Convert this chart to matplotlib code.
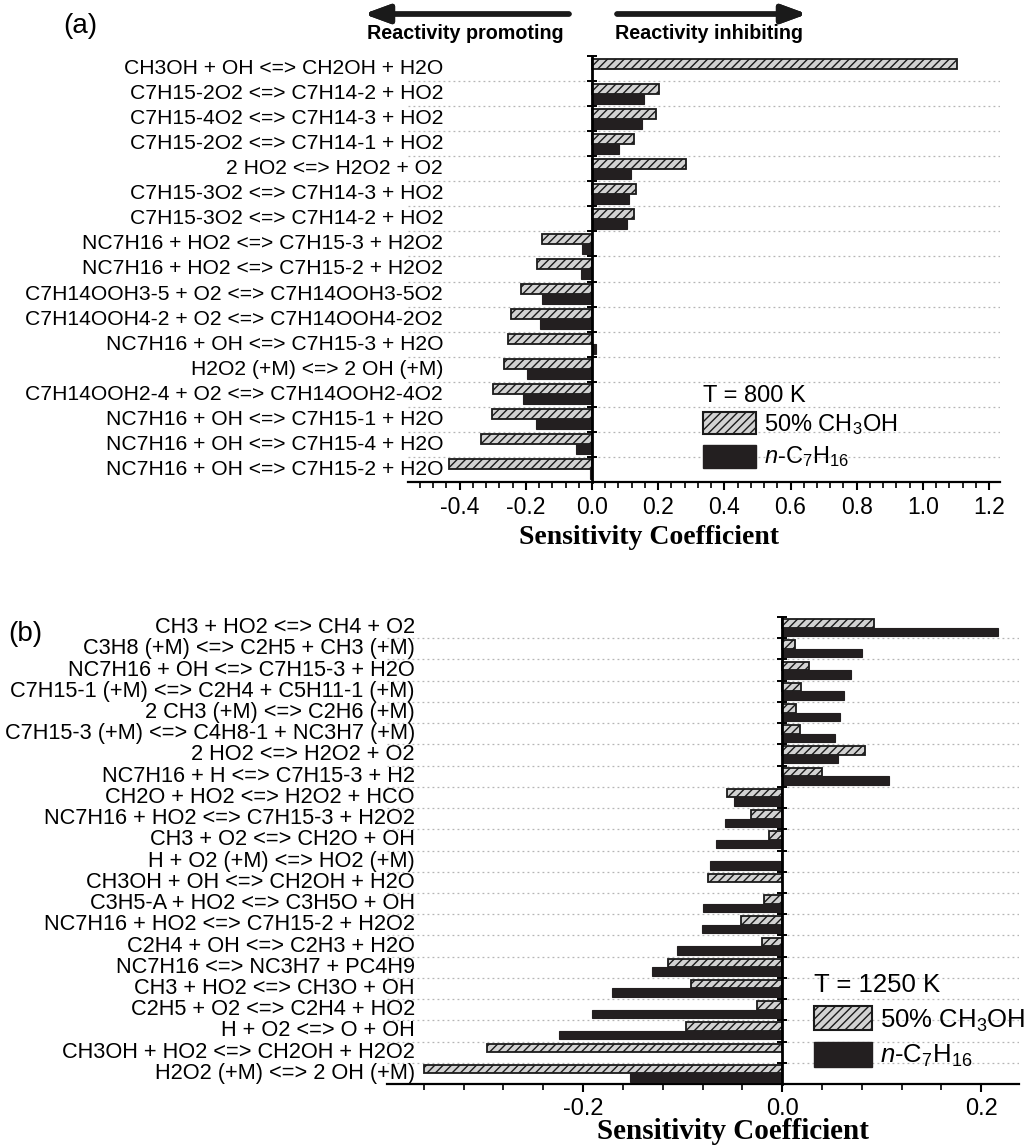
import numpy as np
import matplotlib
matplotlib.use("Agg")
import matplotlib.pyplot as plt
from matplotlib.ticker import MultipleLocator
from matplotlib.patches import Rectangle

plt.rcParams['font.family'] = ['Liberation Sans', 'DejaVu Sans']
plt.rcParams['mathtext.fontset'] = 'custom'
plt.rcParams['mathtext.rm'] = 'Liberation Sans'
plt.rcParams['mathtext.it'] = 'Liberation Sans:italic'
plt.rcParams['hatch.linewidth'] = 1.0

# ---------------- data ----------------
labels_a = [
    "CH3OH + OH <=> CH2OH + H2O",
    "C7H15-2O2 <=> C7H14-2 + HO2",
    "C7H15-4O2 <=> C7H14-3 + HO2",
    "C7H15-2O2 <=> C7H14-1 + HO2",
    "2 HO2 <=> H2O2 + O2",
    "C7H15-3O2 <=> C7H14-3 + HO2",
    "C7H15-3O2 <=> C7H14-2 + HO2",
    "NC7H16 + HO2 <=> C7H15-3 + H2O2",
    "NC7H16 + HO2 <=> C7H15-2 + H2O2",
    "C7H14OOH3-5 + O2 <=> C7H14OOH3-5O2",
    "C7H14OOH4-2 + O2 <=> C7H14OOH4-2O2",
    "NC7H16 + OH <=> C7H15-3 + H2O",
    "H2O2 (+M) <=> 2 OH (+M)",
    "C7H14OOH2-4 + O2 <=> C7H14OOH2-4O2",
    "NC7H16 + OH <=> C7H15-1 + H2O",
    "NC7H16 + OH <=> C7H15-4 + H2O",
    "NC7H16 + OH <=> C7H15-2 + H2O",
]
methanol_a = [1.104, 0.204, 0.194, 0.128, 0.283, 0.133, 0.128, -0.152, -0.165,
              -0.216, -0.244, -0.253, -0.266, -0.299, -0.303, -0.334, -0.432]
heptane_a = [0.0, 0.157, 0.150, 0.081, 0.117, 0.113, 0.105, -0.031, -0.033,
             -0.151, -0.157, 0.012, -0.195, -0.208, -0.169, -0.048, -0.006]

labels_b = [
    "CH3 + HO2 <=> CH4 + O2",
    "C3H8 (+M) <=> C2H5 + CH3 (+M)",
    "NC7H16 + OH <=> C7H15-3 + H2O",
    "C7H15-1 (+M) <=> C2H4 + C5H11-1 (+M)",
    "2 CH3 (+M) <=> C2H6 (+M)",
    "C7H15-3 (+M) <=> C4H8-1 + NC3H7 (+M)",
    "2 HO2 <=> H2O2 + O2",
    "NC7H16 + H <=> C7H15-3 + H2",
    "CH2O + HO2 <=> H2O2 + HCO",
    "NC7H16 + HO2 <=> C7H15-3 + H2O2",
    "CH3 + O2 <=> CH2O + OH",
    "H + O2 (+M) <=> HO2 (+M)",
    "CH3OH + OH <=> CH2OH + H2O",
    "C3H5-A + HO2 <=> C3H5O + OH",
    "NC7H16 + HO2 <=> C7H15-2 + H2O2",
    "C2H4 + OH <=> C2H3 + H2O",
    "NC7H16 <=> NC3H7 + PC4H9",
    "CH3 + HO2 <=> CH3O + OH",
    "C2H5 + O2 <=> C2H4 + HO2",
    "H + O2 <=> O + OH",
    "CH3OH + HO2 <=> CH2OH + H2O2",
    "H2O2 (+M) <=> 2 OH (+M)",
]
methanol_b = [0.092, 0.013, 0.027, 0.019, 0.014, 0.018, 0.083, 0.040, -0.055,
              -0.031, -0.013, 0.0, -0.074, -0.018, -0.041, -0.020, -0.115,
              -0.092, -0.025, -0.097, -0.297, -0.360]
heptane_b = [0.217, 0.080, 0.069, 0.062, 0.058, 0.053, 0.056, 0.107, -0.048,
             -0.057, -0.066, -0.072, 0.0, -0.080, -0.081, -0.106, -0.131,
             -0.171, -0.191, -0.224, 0.0, -0.153]

series_names = ["50% CH$_3$OH", "$n$-C$_7$H$_{16}$"]
xticks_a = [-0.4, -0.2, 0.0, 0.2, 0.4, 0.6, 0.8, 1.0, 1.2]
xticks_b = [-0.2, 0.0, 0.2]

W, H = 1030, 1148
fig = plt.figure(figsize=(W / 100, H / 100), dpi=100)


def fx(px):
    return px / W


def fy(py):
    return 1 - py / H


HATCH_FACE = '#d2d2d2'
SOLID = '#231f20'
SERIF = ['Liberation Serif', 'DejaVu Serif']


def panel(rect, labels, meth, hept, xlim, xticks, label_x, tick_fs, label_fs):
    ax = fig.add_axes(rect)
    n = len(labels)
    y = np.arange(n)
    ax.barh(y - 0.2, meth, height=0.4, color=HATCH_FACE, edgecolor='#1a1a1a',
            hatch='////', linewidth=1.3, zorder=3)
    ax.barh(y + 0.2, hept, height=0.4, color=SOLID, edgecolor=SOLID,
            linewidth=0.8, zorder=3)
    ax.set_ylim(n - 0.5, -0.5)
    ax.set_xlim(*xlim)
    # dotted separators between categories
    for b in np.arange(0.5, n - 0.5, 1.0):
        ax.axhline(b, color='#b5b5b5', ls=(0, (1.5, 2.5)), lw=0.9, zorder=1)
    for s in ['top', 'right']:
        ax.spines[s].set_visible(False)
    ax.spines['left'].set_position(('data', 0))
    ax.spines['left'].set_linewidth(2.0)
    ax.spines['left'].set_zorder(5)
    ax.spines['bottom'].set_linewidth(1.6)
    ax.set_yticks([])
    ax.set_yticks(np.arange(-0.5, n - 0.5, 1.0), minor=True)
    ax.tick_params(axis='y', which='minor', direction='inout', length=7, width=1.4)
    ax.set_xticks(xticks)
    ax.set_xticklabels([f"{t:.1f}" for t in xticks], fontsize=tick_fs)
    ax.xaxis.set_minor_locator(MultipleLocator(0.04))
    ax.tick_params(axis='x', which='major', direction='out', length=6, width=1.5, pad=4)
    ax.tick_params(axis='x', which='minor', direction='out', length=4, width=1.2)
    for i, lab in enumerate(labels):
        ax.text(label_x, i, lab, ha='right', va='center', fontsize=label_fs,
                clip_on=False)
    return ax


# top panel: axes x 408..1000 px, y 56..482 px
ax1 = panel([fx(408), fy(482), fx(1000) - fx(408), fy(56) - fy(482)],
            labels_a, methanol_a, heptane_a, (-0.556, 1.233), xticks_a,
            -0.450, 16.5, 15.2)
# bottom panel: axes x 387..1019 px, y 617..1084 px
ax2 = panel([fx(387), fy(1084), fx(1019) - fx(387), fy(617) - fy(1084)],
            labels_b, methanol_b, heptane_b, (-0.397, 0.238), xticks_b,
            -0.369, 17, 15.7)

# axis titles
fig.text(fx(649), fy(544), "Sensitivity Coefficient", fontsize=20, fontweight='bold',
         family=SERIF, ha='center', va='baseline')
fig.text(fx(733), fy(1139), "Sensitivity Coefficient", fontsize=21, fontweight='bold',
         family=SERIF, ha='center', va='baseline')

# panel letters
fig.text(fx(63), fy(33), "(a)", fontsize=20, ha='left', va='baseline')
fig.text(fx(8), fy(641), "(b)", fontsize=20, ha='left', va='baseline')

# arrows & reactivity text
arrow_style = dict(arrowstyle='-|>,head_length=1.5,head_width=0.55',
                   lw=3.8, color='#1a1a1a', shrinkA=0, shrinkB=0)
fig.add_artist(plt.annotate("", xy=(fx(364), fy(14)), xytext=(fx(569), fy(14)),
                            xycoords='figure fraction', textcoords='figure fraction',
                            arrowprops=arrow_style))
fig.add_artist(plt.annotate("", xy=(fx(807), fy(14)), xytext=(fx(617), fy(14)),
                            xycoords='figure fraction', textcoords='figure fraction',
                            arrowprops=arrow_style))
fig.text(fx(367), fy(39), "Reactivity promoting", fontsize=14.2, fontweight='bold',
         ha='left', va='baseline')
fig.text(fx(615), fy(39), "Reactivity inhibiting", fontsize=14.2, fontweight='bold',
         ha='left', va='baseline')


def legend(title, x0, patch_w, y_title, hatch_box, solid_box, y_t1, y_t2, fs):
    fig.text(fx(x0), fy(y_title), title, fontsize=fs, ha='left', va='baseline')
    (ya, yb) = hatch_box
    fig.add_artist(Rectangle((fx(x0), fy(yb)), fx(patch_w), fy(ya) - fy(yb),
                             transform=fig.transFigure, facecolor=HATCH_FACE,
                             edgecolor='#1a1a1a', hatch='////', lw=1.5))
    (ya, yb) = solid_box
    fig.add_artist(Rectangle((fx(x0), fy(yb)), fx(patch_w), fy(ya) - fy(yb),
                             transform=fig.transFigure, facecolor=SOLID,
                             edgecolor=SOLID, lw=1.0))
    fig.text(fx(x0 + patch_w + 8), fy(y_t1), series_names[0], fontsize=fs,
             ha='left', va='baseline')
    fig.text(fx(x0 + patch_w + 8), fy(y_t2), series_names[1], fontsize=fs,
             ha='left', va='baseline')


legend("T = 800 K", 703, 53, 402, (412, 434), (445, 468), 431, 463, 17)
legend("T = 1250 K", 814, 58, 992, (1006, 1030), (1042, 1067), 1028, 1063, 18.5)

fig.savefig("out.png", dpi=100)
